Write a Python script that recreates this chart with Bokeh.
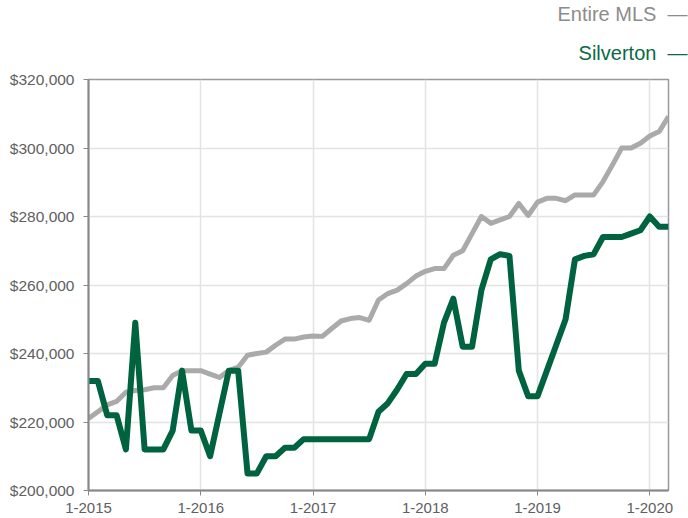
from bokeh.plotting import figure
from bokeh.embed import file_html
from bokeh.resources import INLINE
from bokeh.models import FixedTicker, NumeralTickFormatter, Range1d, Title

# Monthly index, 0 = January 2015
months = list(range(63))

entire_mls = [
    221000, 223000, 225000, 226000, 228700, 229200, 229400, 230000, 230000, 233600, 235000, 235000,
    235000, 234000, 233000, 235000, 236000, 239500, 240000, 240400, 242400, 244200, 244200, 244800,
    245100, 245000, 247300, 249500, 250200, 250500, 249700, 255600, 257500, 258500, 260400, 262600,
    264000, 264800, 264800, 268700, 270000, 275000, 280000, 278000, 279000, 280000, 283800, 280300,
    284200, 285300, 285300, 284600, 286300, 286300, 286300, 290200, 295000, 300000, 300000, 301400,
    303500, 304800, 309200,
]

silverton = [
    232000, 232000, 222000, 222000, 212000, 249000, 212000, 212000, 212000, 217500, 235000, 217500,
    217500, 210000, 222500, 235000, 235000, 205000, 205000, 210000, 210000, 212500, 212500, 215000,
    215000, 215000, 215000, 215000, 215000, 215000, 215000, 223000, 225500, 229500, 234000, 234000,
    237000, 237000, 249000, 256000, 242000, 242000, 258500, 267500, 269000, 268500, 235000, 227500,
    227500, 235000, 242500, 250000, 267500, 268500, 269000, 274000, 274000, 274000, 275000, 276000,
    280000, 277000, 277000,
]

x_ticks = [0, 12, 24, 36, 48, 60]
x_tick_labels = ["1-2015", "1-2016", "1-2017", "1-2018", "1-2019", "1-2020"]
y_ticks = [200000, 220000, 240000, 260000, 280000, 300000, 320000]

series_names = ["Entire MLS", "Silverton"]
line_colors = ["#aaaaaa", "#006340"]
text_colors = ["#8c8c8c", "#0a6a44"]

FONT = "Liberation Sans"

p = figure(
    width=688, height=518,
    output_backend="svg", toolbar_location=None,
    x_range=Range1d(0, 62), y_range=Range1d(200000, 320000),
    min_border_left=88, min_border_right=20, min_border_top=79, min_border_bottom=28,
)
p.background_fill_color = "white"
p.border_fill_color = "white"
p.outline_line_color = "#999999"
p.outline_line_width = 1.5

p.line(months, entire_mls, line_color=line_colors[0], line_width=5, line_join="round")
p.line(months, silverton, line_color=line_colors[1], line_width=6, line_join="round")

# axes
p.xaxis.ticker = FixedTicker(ticks=x_ticks)
p.xaxis.major_label_overrides = {t: l for t, l in zip(x_ticks, x_tick_labels)}
p.yaxis.ticker = FixedTicker(ticks=y_ticks)
p.yaxis.formatter = NumeralTickFormatter(format="$0,0")
for ax in (p.xaxis, p.yaxis):
    ax.axis_line_color = "#888888"
    ax.axis_line_width = 2
    ax.major_tick_line_color = "#888888"
    ax.major_tick_out = 5
    ax.major_tick_in = 0
    ax.minor_tick_line_color = None
    ax.major_label_text_color = "#606060"
    ax.major_label_text_font = FONT
p.xaxis.major_label_text_font_size = "15px"
p.yaxis.major_label_text_font_size = "15.5px"
p.xaxis.major_label_standoff = 7
p.yaxis.major_label_standoff = 9

p.xgrid.ticker = FixedTicker(ticks=x_ticks)
p.ygrid.ticker = FixedTicker(ticks=y_ticks)
p.xgrid.grid_line_color = "#e3e3e3"
p.ygrid.grid_line_color = "#e3e3e3"
p.xgrid.grid_line_width = 1.5
p.ygrid.grid_line_width = 1.5

# legend entries as right-aligned titles above the plot (nearest first)
standoffs = [0, 31]
for name, col, so in reversed(list(zip(series_names, text_colors, standoffs))):
    p.add_layout(Title(text=name + "\u00a0\u00a0\u2014", align="right", offset=-19,
                       text_color=col, text_font=FONT, text_font_size="20px",
                       text_font_style="normal", standoff=so), "above")

open("out.html", "w").write(file_html(p, INLINE))
